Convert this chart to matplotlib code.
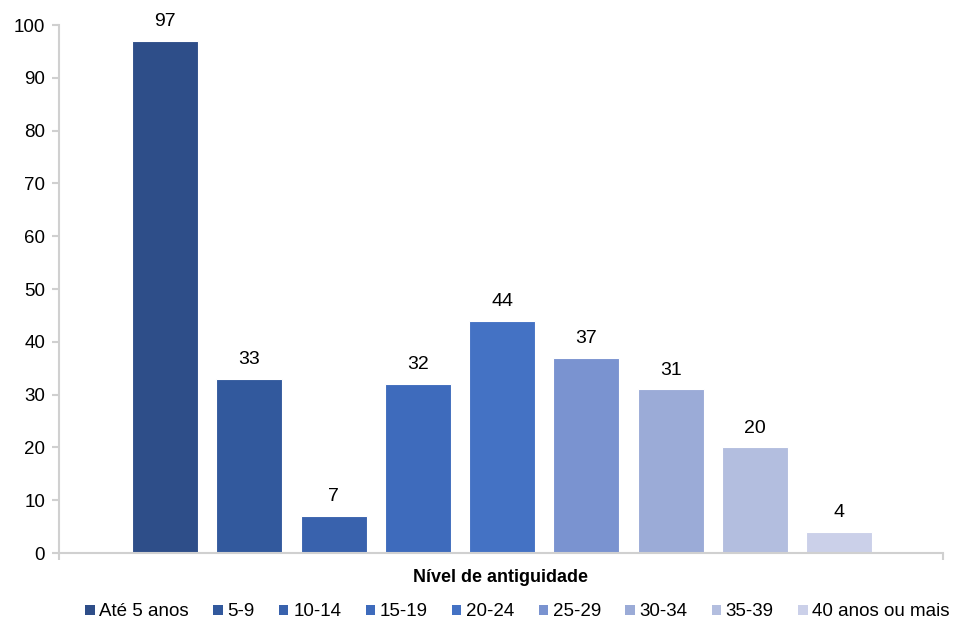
import matplotlib.pyplot as plt
from matplotlib.patches import Patch

plt.rcParams['font.family'] = ['Liberation Sans', 'DejaVu Sans']

categories = ["Até 5 anos", "5-9", "10-14", "15-19", "20-24",
              "25-29", "30-34", "35-39", "40 anos ou mais"]
values = [97, 33, 7, 32, 44, 37, 31, 20, 4]
colors = ["#2E4E89", "#32599D", "#3962AD", "#3E6BBC", "#4472C4",
          "#7A93D0", "#9BABD7", "#B3BEDF", "#CBD0E9"]

axis_color = "#D0D0D0"

fig = plt.figure(figsize=(9.54, 6.22), dpi=100)
ax = fig.add_axes([0.0618, 0.1109, 0.9267, 0.8489])

x = list(range(len(values)))
bars = ax.bar(x, values, width=0.783, color=colors, edgecolor="white", linewidth=0.8)

for xi, v in zip(x, values):
    ax.text(xi, v + 2.0, str(v), ha="center", va="bottom", fontsize=14, color="#000000")

xmin, xmax = -1.257, 9.23
ax.set_xlim(xmin, xmax)
ax.set_ylim(0, 100)
ax.set_yticks(range(0, 101, 10))
ax.set_xticks([xmin, xmax])
ax.set_xticklabels([])
ax.tick_params(axis="y", labelsize=13.5, colors=axis_color, labelcolor="black",
               length=5, width=1.5, pad=5)
ax.tick_params(axis="x", colors=axis_color, length=5, width=1.5)

for s in ["top", "right"]:
    ax.spines[s].set_visible(False)
for s in ["left", "bottom"]:
    ax.spines[s].set_color(axis_color)
    ax.spines[s].set_linewidth(1.5)

fig.text(0.525, 1 - 577 / 622, "Nível de antiguidade", ha="center", va="center",
         fontsize=13, fontweight="bold")

handles = [Patch(facecolor=c, edgecolor="none") for c in colors]
fig.legend(handles, categories, loc="center", bbox_to_anchor=(0.5425, 1 - 612 / 622),
           ncol=9, frameon=False, fontsize=13.5, handlelength=0.5, handleheight=0.5,
           handletextpad=0.25, columnspacing=1.3, borderpad=0)

fig.savefig("out.png", dpi=100)
